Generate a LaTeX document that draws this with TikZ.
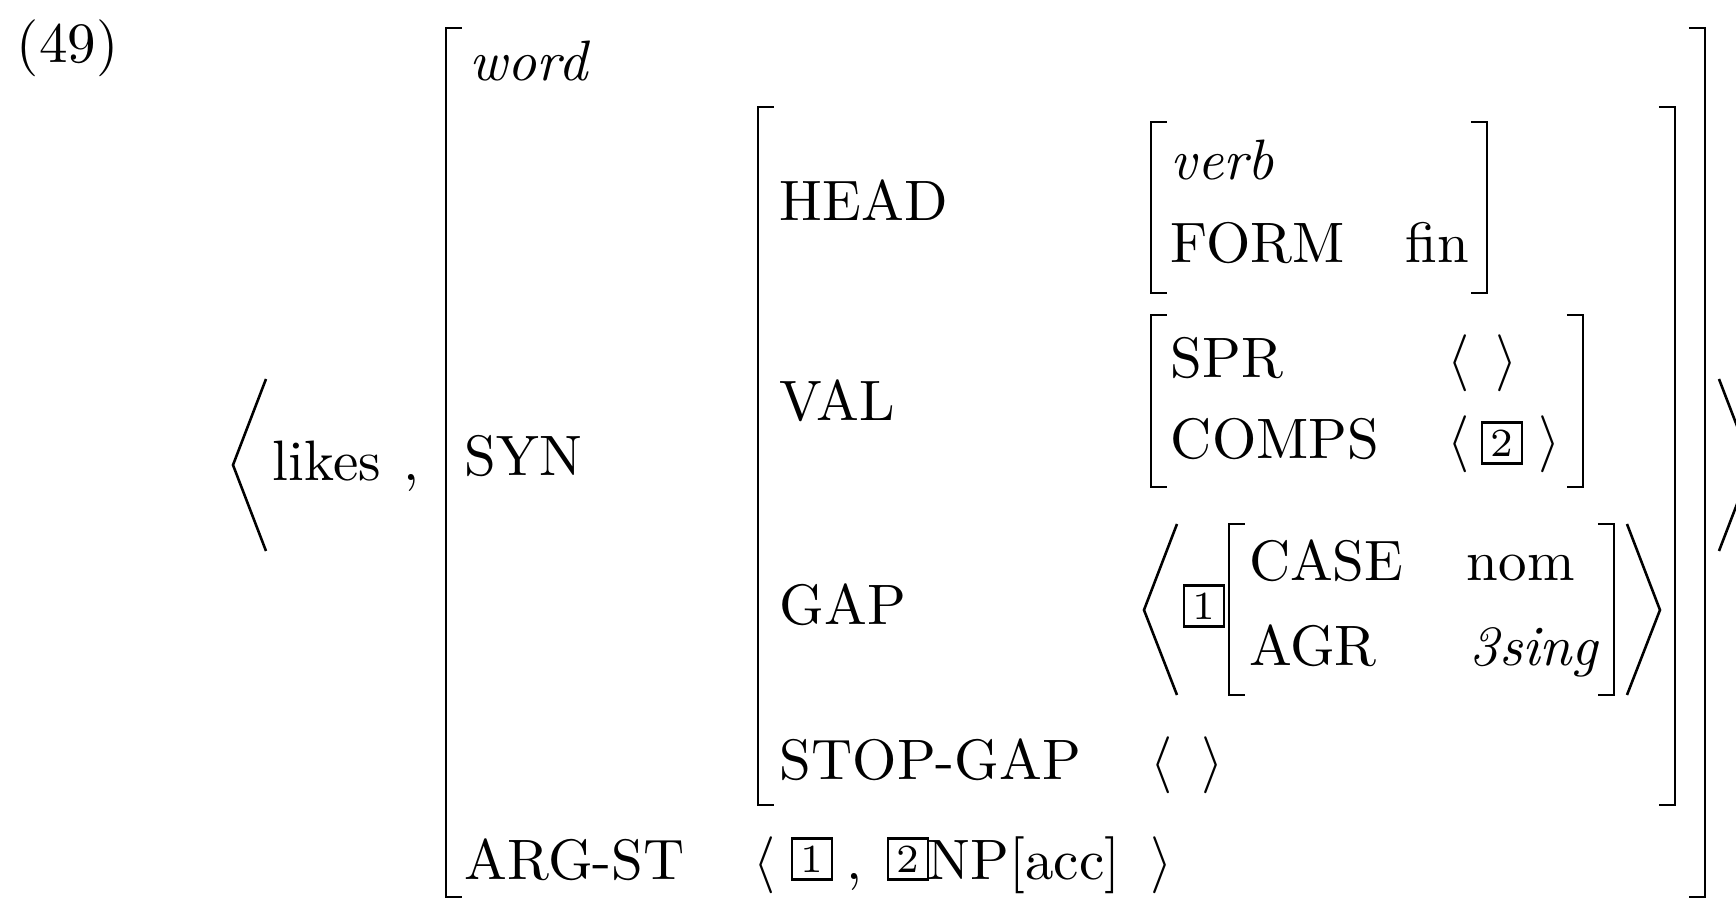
\documentclass[tikz,border=0pt]{standalone}
\begin{document}
\begin{tikzpicture}[x=0.17544pt,y=-0.17544pt,
  txt/.style={anchor=base west,inner sep=0pt,outer sep=0pt},
  brk/.style={line width=0.5pt,line join=miter},
  ang/.style={line width=0.45pt,line join=miter},
  tag/.style={draw,line width=0.4pt,inner sep=0pt,minimum width=7pt,minimum height=7.2pt,font=\scriptsize}]
\useasboundingbox (0,0) rectangle (1736,900);
\clip (0,0) rectangle (1736,900);
% labels
\node[txt] (ex) at (17,63) {(49)};
\node[txt] (likes) at (273,481) {likes};
\node[txt] (comma) at (404,481) {,};
\node[txt] (word) at (470,81) {\textit{word}};
\node[txt] (syn) at (465,476) {SYN};
\node[txt] (argst) at (465,880) {ARG-ST};
\node[txt] (head) at (780,221) {HEAD};
\node[txt] (val) at (780,421) {VAL};
\node[txt] (gap) at (780,625) {GAP};
\node[txt] (stopgap) at (780,780) {STOP-GAP};
\node[txt] (verb) at (1171,180) {\textit{verb}};
\node[txt] (form) at (1171,263) {FORM};
\node[txt] (fin) at (1406,263) {fin};
\node[txt] (spr) at (1171,378) {SPR};
\node[txt] (comps) at (1171,459) {COMPS};
\node[txt] (case) at (1249,581) {CASE};
\node[txt] (nom) at (1467,581) {nom};
\node[txt] (agr) at (1249,666) {AGR};
\node[txt] (sing) at (1470,666) {\textit{3sing}};
% small angle brackets
\node[txt] (sprl) at (1447,378) {$\langle$};
\node[txt] (sprr) at (1495,378) {$\rangle$};
\node[txt] (compsl) at (1447,459) {$\langle$};
\node[tag] (t2c) at (1502,443) {2};
\node[txt] (compsr) at (1539,459) {$\rangle$};
\node[txt] (sgl) at (1151,780) {$\langle$};
\node[txt] (sgr) at (1201,780) {$\rangle$};
\node[txt] (asl) at (753,880) {$\langle$};
\node[tag] (t1a) at (812,859) {1};
\node[txt] (ascomma) at (847,880) {,};
\node[tag] (t2a) at (908,859) {2};
\node[txt] (np) at (928,880) {NP[acc]};
\node[txt] (asr) at (1151,880) {$\rangle$};
\node[tag] (t1g) at (1204,606) {1};
% brackets
\draw[brk] (462,28) -| (446,897) -- (462,897);
\draw[brk] (1689,28) -| (1705,897) -- (1689,897);
\draw[brk] (774,107) -| (758,805) -- (774,805);
\draw[brk] (1659,107) -| (1675,805) -- (1659,805);
\draw[brk] (1167,122) -| (1151,293) -- (1167,293);
\draw[brk] (1471,122) -| (1487,293) -- (1471,293);
\draw[brk] (1167,315) -| (1151,487) -- (1167,487);
\draw[brk] (1567,315) -| (1583,487) -- (1567,487);
\draw[brk] (1245,524) -| (1229,695) -- (1245,695);
\draw[brk] (1598,524) -| (1614,695) -- (1598,695);
% big angle brackets
\draw[ang] (266,379) -- (233,465) -- (266,551);
\draw[ang] (1177,524) -- (1144,610) -- (1177,695);
\draw[ang] (1627,524) -- (1660,610) -- (1627,695);
\draw[ang] (1719,379) -- (1752,465) -- (1719,551);
\end{tikzpicture}
\end{document}
